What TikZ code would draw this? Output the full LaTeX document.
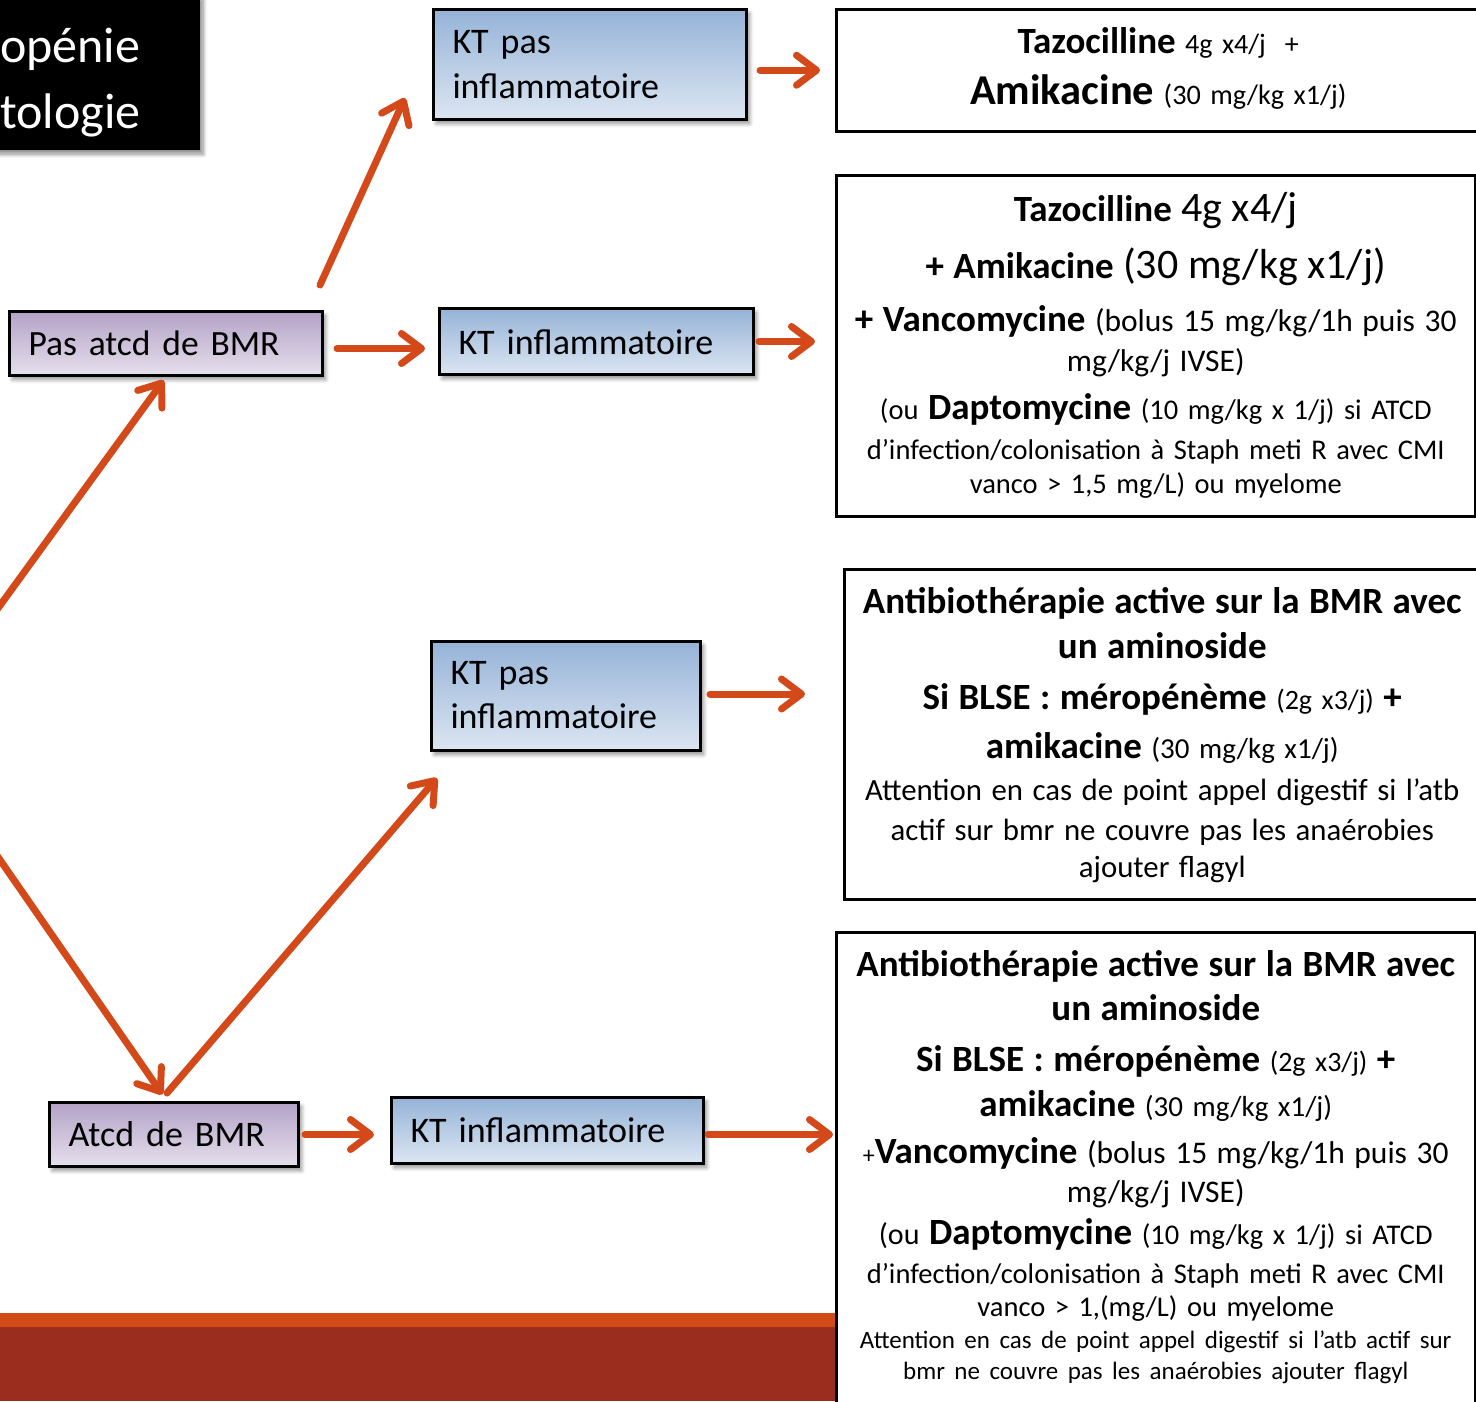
\documentclass[tikz,border=0pt]{standalone}
\usepackage{fontspec}
\setmainfont{Carlito}
\usetikzlibrary{arrows.meta,shadows.blur}
\definecolor{arrorange}{RGB}{212,73,26}
\definecolor{bandorange}{RGB}{210,74,24}
\definecolor{bandred}{RGB}{155,45,31}
\definecolor{bleuhaut}{RGB}{149,179,215}
\definecolor{bleubas}{RGB}{220,230,242}
\definecolor{mauvehaut}{RGB}{179,162,199}
\definecolor{mauvebas}{RGB}{230,224,236}
\newcommand{\fsz}[1]{\fontsize{#1}{0}\selectfont}
\begin{document}
\begin{tikzpicture}[x=1pt,y=-1pt,
  arr/.style={draw=arrorange, line width=7pt, line cap=round, -{Straight Barb[round,length=20pt,width=30pt]}},
  ombre/.style={blur shadow={shadow blur steps=8,shadow blur radius=4pt,shadow xshift=3pt,shadow yshift=-4pt,shadow opacity=45}},
  kbox/.style={draw=black, line width=3pt, inner xsep=19pt, inner ysep=0pt, anchor=north west, align=left, font={\fsz{36}\lineskiplimit=-1000pt}, ombre},
  bleu/.style={kbox, top color=bleuhaut, bottom color=bleubas},
  mauve/.style={kbox, top color=mauvehaut, bottom color=mauvebas},
  rbox/.style={draw=black, line width=2.5pt, fill=white, inner xsep=4pt, inner ysep=0pt, anchor=north west, align=center, font={\fsz{28.5}\lineskiplimit=-1000pt}}]
\useasboundingbox (0,0) rectangle (1476,1401);
\clip (0,0) rectangle (1476,1401);
\fill[bandorange] (0,1313) rectangle (840,1327);
\fill[bandred] (0,1327) rectangle (840,1401);
\node[fill=black, anchor=north west, inner xsep=30pt, inner ysep=0pt, text width=170pt, align=left, text=white, font={\fsz{50}\lineskiplimit=-1000pt}, text height=67pt, text depth=88pt, ombre] (titre) at (-30,-5) {opénie\\[66pt]tologie};
\node[bleu, text width=275pt, text height=44pt, text depth=66pt] (ktpa) at (432,8) {KT pas\\[45pt]inflammatoire};
\node[bleu, text width=276pt, text height=46pt, text depth=20pt] (ktia) at (438,307) {KT inflammatoire};
\node[mauve, text width=275pt, text height=44pt, text depth=20pt, font={\fsz{35.5}\lineskiplimit=-1000pt}] (pasbmr) at (8,310) {Pas atcd de BMR};
\node[bleu, text width=231pt, text height=43pt, text depth=66pt] (ktpb) at (430,640) {KT pas\\[44pt]inflammatoire};
\node[mauve, text width=211pt, text height=44pt, text depth=20pt] (atcd) at (48,1101) {Atcd de BMR};
\node[bleu, text width=274pt, text height=45pt, text depth=21pt] (ktib) at (390,1096) {KT inflammatoire};
\node[rbox, text width=636pt, text height=44pt, text depth=78pt] (rba) at (835,8)
  {{\bfseries\fsz{37}Tazocilline} {\fsz{28}4g x4/j\ \ +}\\[51pt]
   {\bfseries\fsz{42.5}Amikacine} {\fsz{28.2}(30 mg/kg x1/j)}};
\node[rbox, text width=631pt, text height=46pt, text depth=295pt] (rbb) at (835,174)
  {{\bfseries\fsz{37}Tazocilline} {\fsz{42}4g x4/j}\\[57pt]
   {\bfseries\fsz{37}+ Amikacine} {\fsz{42}(30 mg/kg x1/j)}\\[53pt]
   {\bfseries\fsz{37}+ Vancomycine} {\fsz{31.5}(bolus 15 mg/kg/1h puis 30}\\[40pt]
   {\fsz{31.5}mg/kg/j IVSE)}\\[48pt]
   (ou {\bfseries\fsz{37}Daptomycine} (10 mg/kg x 1/j) si ATCD\\[40pt]
   d’infection/colonisation à Staph meti R avec CMI\\[34pt]
   vanco > 1,5 mg/L) ou myelome};
\node[rbox, text width=628pt, text height=44pt, text depth=286pt] (rbc) at (843,568)
  {{\bfseries\fsz{37}Antibiothérapie active sur la BMR avec}\\[45pt]
   {\bfseries\fsz{37}un aminoside}\\[51pt]
   {\bfseries\fsz{37}Si BLSE : méropénème} {\fsz{28}(2g x3/j)} {\bfseries\fsz{37}+}\\[49pt]
   {\bfseries\fsz{37}amikacine} {\fsz{29}(30 mg/kg x1/j)}\\[42pt]
   {\fsz{30.8}Attention en cas de point appel digestif si l’atb}\\[40pt]
   {\fsz{30.8}actif sur bmr ne couvre pas les anaérobies}\\[37pt]
   {\fsz{30.8}ajouter flagyl}};
\node[rbox, text width=631pt, text height=44pt, text depth=460pt] (rbd) at (835,931)
  {{\bfseries\fsz{37}Antibiothérapie active sur la BMR avec}\\[44pt]
   {\bfseries\fsz{37}un aminoside}\\[51pt]
   {\bfseries\fsz{37}Si BLSE : méropénème} {\fsz{28}(2g x3/j)} {\bfseries\fsz{37}+}\\[45pt]
   {\bfseries\fsz{37}amikacine} {\fsz{29}(30 mg/kg x1/j)}\\[47pt]
   {\fsz{24}+}{\bfseries\fsz{37}Vancomycine} {\fsz{31.5}(bolus 15 mg/kg/1h puis 30}\\[39pt]
   {\fsz{31.5}mg/kg/j IVSE)}\\[42pt]
   {\fsz{30}(ou} {\bfseries\fsz{37}Daptomycine} (10 mg/kg x 1/j) si ATCD\\[39pt]
   d’infection/colonisation à Staph meti R avec CMI\\[33pt]
   vanco > 1,(mg/L) ou myelome\\[32pt]
   {\fsz{25}Attention en cas de point appel digestif si l’atb actif sur}\\[31pt]
   {\fsz{25}bmr ne couvre pas les anaérobies ajouter flagyl}};
\coordinate (in1) at (-20,633);
\coordinate (in2) at (-20,831);
\draw[arr] ([xshift=-4pt,yshift=25pt]pasbmr.north east) -- ([xshift=-27pt,yshift=23pt]ktpa.south west);
\draw[arr] ([xshift=13pt,yshift=-5pt]pasbmr.east) -- ([xshift=-13pt,yshift=-7pt]ktia.west);
\draw[arr, shorten <=12pt, shorten >=15pt] (ktpa.east |- rba.west) -- (rba.west);
\draw[arr, shorten <=4pt, shorten >=20pt] (ktia.east) -- (ktia.east -| rbb.west);
\draw[arr, shorten >=4pt] (in1) -- (pasbmr.south);
\draw[arr, shorten >=8pt] (in2) -- ([xshift=-7pt]atcd.north);
\draw[arr] ([xshift=-7pt,yshift=8pt]atcd.north) -- ([xshift=7pt,yshift=-26pt]ktpb.south west);
\draw[arr, shorten <=5pt, shorten >=16pt] (atcd.east) -- (atcd.east -| ktib.west);
\draw[arr, shorten <=8pt, shorten >=38pt] ([yshift=2pt]ktpb.east) -- ([yshift=2pt]ktpb.east -| rbc.west);
\draw[arr, shorten <=3pt, shorten >=2pt] ([yshift=-4pt]ktib.east) -- ([yshift=-4pt]ktib.east -| rbd.west);
\end{tikzpicture}
\end{document}
